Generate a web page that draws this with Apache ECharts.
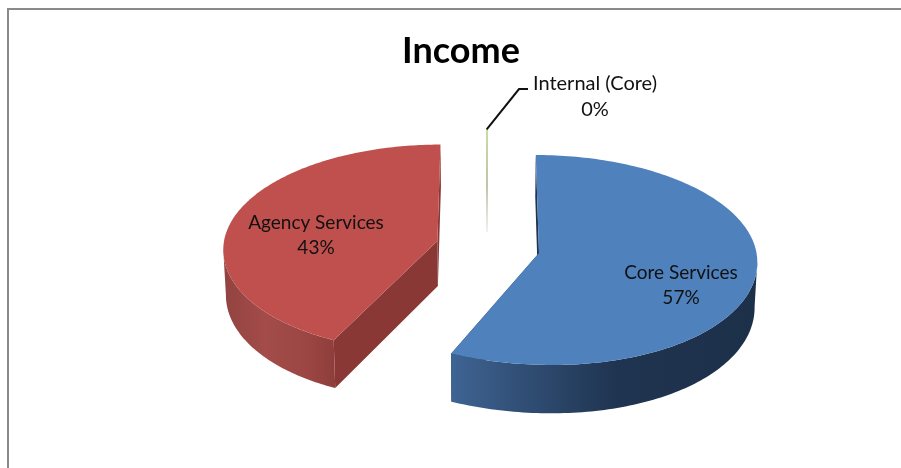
<!DOCTYPE html>
<html>
<head>
<meta charset="utf-8">
<style>html,body{margin:0;padding:0;background:#fff}#c{width:901px;height:468px}</style>
<script src="https://cdn.jsdelivr.net/npm/echarts@6/dist/echarts.min.js"></script>
</head>
<body>
<div id="c"></div>
<script>
const titleText = 'Income';
const categories = ['Core Services', 'Agency Services', 'Internal (Core)'];
const values = [57, 43, 0];
const topColors = ['#4f81bd', '#c0504d', '#9bbb59'];

// Picture-projection constants
const FONT = 'Lato, "Open Sans", sans-serif';
const CX = 487, CY = 253, PERSP = 0.0667, RY = 104.5, DEPTH = 45;
const sliceLayout = [
  { ex: 52, ey: 0, rx: 217.5, ry: RY, spread: 0.16, label: [681, 273], size: 19, wall: '#1f3350',
    side: [[0, '#3f6594'], [0.2, '#33527a'], [0.55, '#1f3450'], [1, '#1d304a']], sideX: [450, 753] },
  { ex: -50, ey: 12, rx: 215, ry: RY, spread: 0.09, label: [316, 223], size: 19, wall: '#893835',
    side: [[0, '#934341'], [0.35, '#a34c4a'], [0.7, '#9c4744'], [1, '#8e3d3b']], sideX: [226, 337] },
  { ex: 0, ey: 21, rx: 219, ry: RY * 1.09, spread: 0, label: [595, 84], size: 20, wall: '#9bbb59' }
];
const leader = [[486.7, 129.3], [519, 89], [528, 89]];

const total = values.reduce((a, b) => a + b, 0);
function project(s, r, deg) {
  const t = deg * Math.PI / 180;
  const c = r * Math.cos(t);
  const spread = c < 0 ? 1 + s.spread * c * c : 1;
  const X = s.ex * spread + r * s.rx * Math.sin(t);
  const Y = s.ey + r * s.ry * c;
  const w = 1 + PERSP * Y / RY;
  return [CX + X / w, CY - Y / w];
}
function lower(p, s) {
  const ay = CY - s.ey;
  return [CX + (p[0] - CX) * 0.99, ay + (p[1] - ay) * 1.03 + DEPTH];
}
function renderItem(params, api) {
  const i = params.dataIndex;
  const s = sliceLayout[i];
  let before = 0;
  for (let k = 0; k < i; k++) before += values[k];
  const a0 = before / total * 360;
  const a1 = (before + api.value(0)) / total * 360;
  const children = [];
  const pct = Math.round(api.value(0) / total * 100) + '%';
  if (a1 - a0 < 0.5) {
    const apex = project(s, 0, a0), rim = project(s, 1, a0);
    children.push({ type: 'line', shape: { x1: rim[0], y1: rim[1], x2: apex[0], y2: apex[1] },
      style: { lineWidth: 1.4, stroke: { type: 'linear', x: 0, y: 0, x2: 0, y2: 1, global: false,
        colorStops: [{ offset: 0, color: '#b3cd76' }, { offset: 0.55, color: '#a3ab8a' }, { offset: 1, color: '#eceee6' }] } } });
    children.push({ type: 'polyline', shape: { points: leader }, style: { stroke: '#111', lineWidth: 2, fill: null } });
  } else {
    const arc = [];
    const n = 180;
    for (let k = 0; k <= n; k++) arc.push(project(s, 1, a0 + (a1 - a0) * k / n));
    const apex = project(s, 0, a0);
    const low = arc.map(p => lower(p, s));
    const wallA = [arc[0], apex, lower(apex, s), low[0]];
    const wallB = [arc[n], apex, lower(apex, s), low[n]];
    children.push({ type: 'polygon', shape: { points: wallA }, style: { fill: s.wall } });
    children.push({ type: 'polygon', shape: { points: wallB }, style: { fill: s.wall } });
    // outer wall: only the near part, from the widest point of the rim to the cut edge
    let widest = 0;
    arc.forEach((p, k) => { if (Math.abs(p[0] - CX) > Math.abs(arc[widest][0] - CX)) widest = k; });
    const near = arc[n][1] > arc[0][1] ? [widest, n + 1] : [0, widest + 1];
    const sideTop = arc.slice(near[0], near[1]);
    const sideLow = low.slice(near[0], near[1]).reverse();
    children.push({ type: 'polygon', shape: { points: sideTop.concat(sideLow) },
      style: { fill: { type: 'linear', x: s.sideX[0], y: 0, x2: s.sideX[1], y2: 0, global: true,
        colorStops: s.side.map(d => ({ offset: d[0], color: d[1] })) } } });
    children.push({ type: 'polygon', shape: { points: [apex].concat(arc) }, style: { fill: topColors[i] } });
  }
  children.push({ type: 'text', x: s.label[0], y: s.label[1] + 12.5, style: {
    text: categories[i] + '\n' + pct, font: s.size + 'px ' + FONT, fill: '#111', align: 'center', verticalAlign: 'middle',
    lineHeight: 25.5 } });
  return { type: 'group', children };
}
const chart = echarts.init(document.getElementById('c'), null, { renderer: 'canvas' });
chart.setOption({
  animation: false,
  backgroundColor: '#fff',
  title: { text: titleText, left: 456, top: 24, textAlign: 'center',
    textStyle: { fontFamily: FONT, fontWeight: 'bold', fontSize: 36, color: '#000', lineHeight: 44 } },
  graphic: [
    { type: 'line', shape: { x1: 8, y1: 9, x2: 901, y2: 9 }, style: { stroke: '#8a8a8a', lineWidth: 2 } },
    { type: 'line', shape: { x1: 8, y1: 8, x2: 8, y2: 468 }, style: { stroke: '#8a8a8a', lineWidth: 2 } }
  ],
  series: [{ type: 'custom', coordinateSystem: 'none', silent: true, renderItem,
    data: values.map((v, i) => ({ name: categories[i], value: [v] })) }]
});
</script>
</body>
</html>
